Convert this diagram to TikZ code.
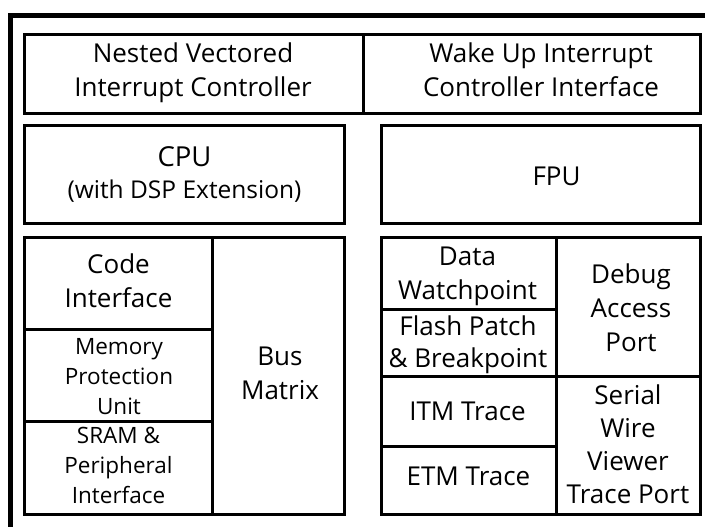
\documentclass[tikz,border=0pt]{standalone}
\usepackage{fontspec}
\setmainfont{Open Sans}
\newcommand\bigtxt{\fontsize{26}{34}\selectfont}
\newcommand\smalltxt{\fontsize{22.5}{30}\selectfont}
\newcommand\subtxt{\fontsize{24.5}{30}\selectfont}
\begin{document}
\begin{tikzpicture}[x=1pt,y=-1pt,
  box/.style={draw, line width=3pt, inner sep=0pt, outer sep=0pt},
  lbl/.style={inner sep=0pt, align=center, font=\bigtxt},
  slbl/.style={inner sep=0pt, align=center, font=\smalltxt}]
\useasboundingbox (0,0) rectangle (705,527);
\clip (0,0) rectangle (705,527);
% outer frame (only top and left edges visible)
\coordinate (frTR) at (720,15.5);
\coordinate (frTL) at (10.5,15.5);
\coordinate (frBL) at (10.5,540);
\draw[line width=5pt] (frTR) -- (frTL) -- (frBL);
% top row
\node[box, minimum width=339pt, minimum height=79pt] (nvic) at (194,74) {};
\node[box, minimum width=337pt, minimum height=79pt] (wic) at (532,74) {};
% CPU / FPU
\node[box, minimum width=320pt, minimum height=98pt] (cpu) at (184.5,174.5) {};
\node[box, minimum width=319pt, minimum height=98pt] (fpu) at (541,174.5) {};
% bottom left block
\node[box, minimum width=188pt, minimum height=91.5pt] (code) at (118.5,283.25) {};
\node[box, minimum width=188pt, minimum height=92pt] (mpu) at (118.5,375) {};
\node[box, minimum width=188pt, minimum height=93.5pt] (sram) at (118.5,467.75) {};
\node[box, minimum width=132pt, minimum height=277pt] (bus) at (278.5,376) {};
% bottom right block
\node[box, minimum width=175pt, minimum height=71.5pt] (dwt) at (469,273.25) {};
\node[box, minimum width=175pt, minimum height=67.5pt] (fpb) at (469,342.75) {};
\node[box, minimum width=175pt, minimum height=70pt] (itm) at (469,411.5) {};
\node[box, minimum width=175pt, minimum height=68pt] (etm) at (469,480.5) {};
\node[box, minimum width=144pt, minimum height=139pt] (dap) at (628.5,307) {};
\node[box, minimum width=144pt, minimum height=138pt] (swv) at (628.5,445.5) {};
% labels
\node[lbl] (nvict) at (193,73.2) {Nested Vectored\\Interrupt Controller};
\node[lbl] (wict) at (541,70.1) {Wake Up Interrupt\\Controller Interface};
\node[lbl] (cput) at (184.5,174.6) {{\fontsize{27.5}{34}\selectfont CPU}\\[-2pt]{\subtxt (with DSP Extension)}};
\node[lbl, anchor=base] (fput) at (556.5,185) {FPU};
\node[lbl] (codet) at (118.5,280.6) {Code\\Interface};
\node[slbl] (mput) at (119,377) {Memory\\Protection\\Unit};
\node[slbl] (sramt) at (118.5,465) {SRAM \&\\Peripheral\\Interface};
\node[lbl] (bust) at (280,373.2) {Bus\\Matrix};
\node[lbl] (dwtt) at (467.5,276.3) {Data\\Watchpoint};
\node[lbl] (fpbt) at (468,345.2) {Flash Patch\\[-2pt]\& Breakpoint};
\node[lbl, anchor=base] (itmt) at (467.5,420) {ITM Trace};
\node[lbl, anchor=base] (etmt) at (468.5,485) {ETM Trace};
\node[lbl] (dapt) at (631,308.1) {Debug\\Access\\Port};
\node[lbl] (swvt) at (628,444.1) {Serial\\[-1pt]Wire\\[-1pt]Viewer\\[-1pt]Trace Port};
\end{tikzpicture}
\end{document}
